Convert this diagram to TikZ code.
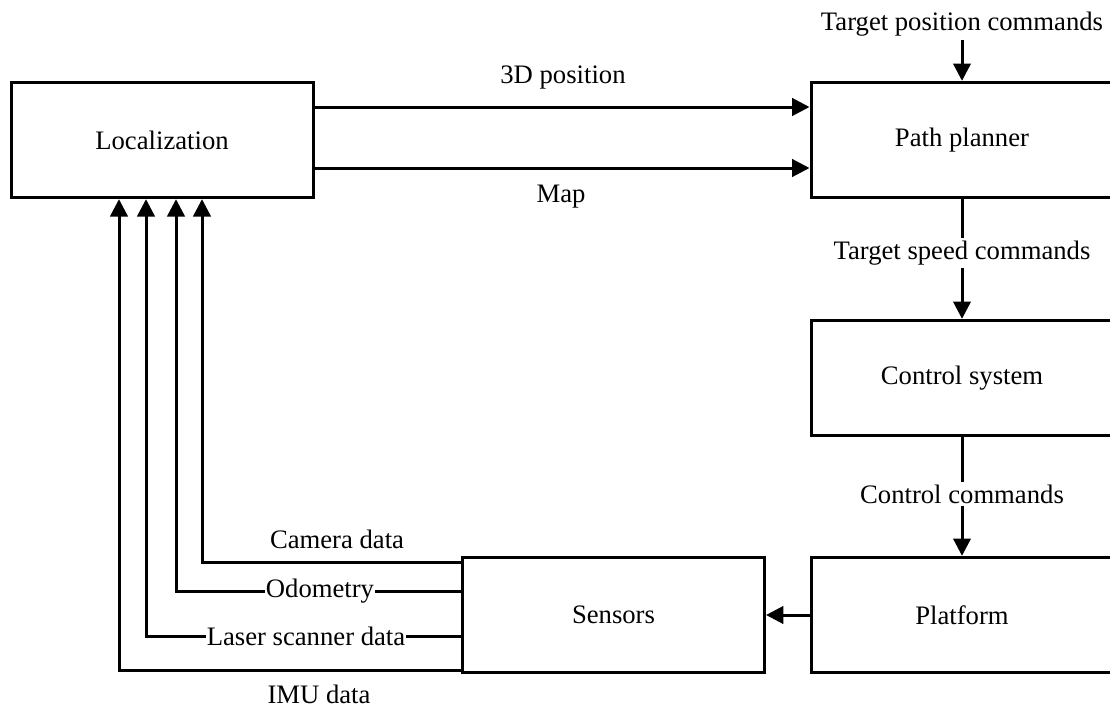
\documentclass[tikz,border=0pt]{standalone}
\usepackage{fontspec}
\setmainfont{Liberation Serif}
\usetikzlibrary{arrows.meta,calc}
\tikzset{
  blk/.style={draw, line width=2.25pt, minimum width=226.5pt, minimum height=86.5pt, inner sep=0pt, fill=white},
  arr/.style={line width=2.25pt, -{Triangle[length=13pt,width=13pt]}},
  lbl/.style={inner sep=1pt},
  onln/.style={lbl, fill=white, inner sep=2pt},
}
\begin{document}
\begin{tikzpicture}[x=0.75pt, y=-0.75pt, font=\fontsize{20}{24}\selectfont]
\useasboundingbox (0,0) rectangle (1110,707);
\clip (0,0) rectangle (1110,707);

% blocks
\node[blk] (loc) at (162,140) {Localization};
\node[blk] (pp)  at (962,140) {Path planner};
\node[blk] (cs)  at (962,378) {Control system};
\node[blk] (pf)  at (962,615) {Platform};
\node[blk] (sen) at (613.5,615) {Sensors};

% helper levels
\coordinate (y3d) at (0,107);
\coordinate (ymap) at (0,168);
\coordinate (ytop) at (0,40);
\coordinate (ycam) at (0,562);
\coordinate (yodo) at (0,591);
\coordinate (ylas) at (0,636);
\coordinate (yimu) at (0,670);
\coordinate (ximu) at (119,0);
\coordinate (xlas) at (146,0);
\coordinate (xodo) at (176,0);
\coordinate (xcam) at (202,0);

% localization -> path planner
\draw[arr] (loc.east |- y3d) -- (pp.west |- y3d);
\draw[arr] (loc.east |- ymap) -- (pp.west |- ymap);
\node[lbl] (l3d) at (563,78) {3D position};
\node[lbl] (lmap) at (561,197) {Map};

% commands down the right column
\node[lbl] (ltp) at (962,24) {Target position commands};
\draw[arr] (pp.north |- ytop) -- (pp.north);
\draw[arr] (pp.south) -- node[onln, pos=0.45] (lts) {Target speed commands} (cs.north);
\draw[arr] (cs.south) -- node[onln, pos=0.48] (lcc) {Control commands} (pf.north);
\draw[arr] (pf.west) -- (sen.east);

% sensor data back to localization
\draw[arr] (sen.west |- ycam) -| (loc.south -| xcam);
\draw[arr] (sen.west |- yodo) -| (loc.south -| xodo);
\draw[arr] (sen.west |- ylas) -| (loc.south -| xlas);
\draw[arr] (sen.west |- yimu) -| (loc.south -| ximu);
\node[lbl] (lcam) at (337,539) {Camera data};
\node[onln, inner sep=0.5pt] (lodo) at (320,591) {Odometry};
\node[onln, inner sep=0.5pt] (llas) at (306,636) {Laser scanner data};
\node[lbl] (limu) at (319,694) {IMU data};
\end{tikzpicture}
\end{document}
